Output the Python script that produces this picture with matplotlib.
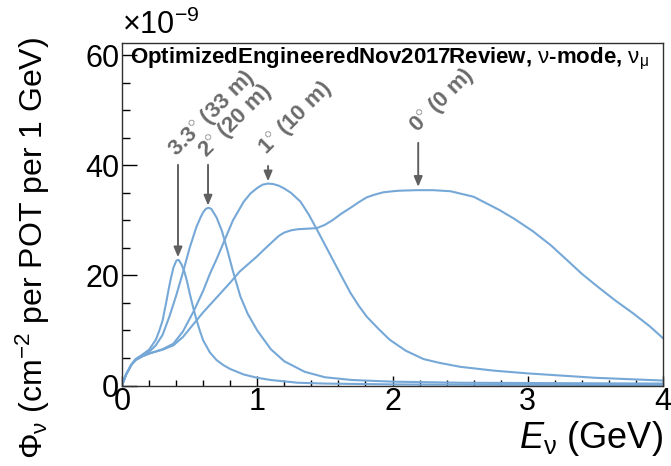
import matplotlib
matplotlib.use("Agg")
import matplotlib.pyplot as plt
from matplotlib.ticker import MultipleLocator

plt.rcParams['font.family'] = ['Liberation Sans', 'DejaVu Sans']
plt.rcParams['mathtext.fontset'] = 'custom'
plt.rcParams['mathtext.rm'] = 'Liberation Sans'
plt.rcParams['mathtext.it'] = 'Liberation Sans:italic'
plt.rcParams['mathtext.bf'] = 'Liberation Sans:bold'

# ---- data (flux in units of 1e-9 cm^-2 per POT per 1 GeV) ----
e_33 = [0, 0.03, 0.07, 0.1, 0.15, 0.2, 0.25, 0.275, 0.3, 0.33, 0.345, 0.36,
        0.38, 0.40, 0.41, 0.42, 0.44, 0.46, 0.48, 0.5, 0.525, 0.55, 0.575,
        0.6, 0.65, 0.7, 0.75, 0.8, 0.9, 1.0, 1.1, 1.3, 1.5, 2.0, 2.5, 3.0,
        3.5, 4.0]
f_33 = [0, 2.0, 3.8, 4.8, 5.6, 6.5, 8.3, 9.9, 11.8, 15.5, 17.5, 19.3,
        21.4, 22.6, 22.8, 22.8, 22.0, 20.8, 19.0, 16.8, 14.3, 12.0, 10.0,
        8.2, 6.0, 4.6, 3.7, 3.0, 2.0, 1.4, 1.0, 0.5, 0.35, 0.2, 0.15, 0.12,
        0.1, 0.1]

e_20 = [0, 0.03, 0.07, 0.1, 0.15, 0.2, 0.25, 0.3, 0.35, 0.4, 0.45, 0.5, 0.55,
        0.58, 0.6, 0.62, 0.64, 0.66, 0.7, 0.74, 0.78, 0.82, 0.875, 0.93, 1.0,
        1.1, 1.2, 1.35, 1.5, 1.7, 2.0, 2.5, 3.0, 3.5, 4.0]
f_20 = [0, 2.0, 3.8, 4.7, 5.4, 6.1, 7.3, 9.2, 12.5, 16.3, 20.5, 25.0, 28.8,
        30.5, 31.5, 32.1, 32.3, 32.1, 30.5, 28.0, 24.5, 20.8, 16.2, 13.0, 10.0,
        6.6, 4.4, 2.5, 1.5, 1.0, 0.7, 0.5, 0.45, 0.4, 0.35]

e_10 = [0, 0.03, 0.07, 0.1, 0.15, 0.2, 0.3, 0.38, 0.45, 0.53, 0.6, 0.65, 0.7,
        0.76, 0.82, 0.9, 0.95, 1.0, 1.04, 1.08, 1.12, 1.16, 1.2, 1.25, 1.32,
        1.38, 1.44, 1.5, 1.56, 1.62, 1.69, 1.75, 1.81, 1.9, 1.98, 2.1, 2.23,
        2.35, 2.5, 2.75, 3.0, 3.5, 4.0]
f_10 = [0, 2.0, 3.8, 4.6, 5.3, 5.8, 6.6, 7.6, 9.8, 13.5, 17.2, 20.3, 23.0,
        26.5, 30.0, 33.4, 34.9, 35.9, 36.5, 36.7, 36.6, 36.3, 35.8, 35.0, 33.4,
        31.1, 28.4, 25.6, 22.8, 20.0, 16.8, 14.5, 12.5, 10.2, 8.3, 6.3, 4.8,
        4.1, 3.4, 2.7, 2.2, 1.4, 0.9]

e_0 = [0, 0.03, 0.07, 0.1, 0.15, 0.2, 0.3, 0.38, 0.45, 0.5, 0.6, 0.7, 0.8,
       0.87, 1.0, 1.05, 1.12, 1.16, 1.2, 1.25, 1.3, 1.37, 1.44, 1.5, 1.56,
       1.62, 1.69, 1.75, 1.81, 1.87, 1.93, 2.0, 2.05, 2.18, 2.3, 2.43, 2.6,
       2.79, 2.9, 3.04, 3.17, 3.29, 3.4, 3.53, 3.65, 3.78, 3.9, 4.0]
f_0 = [0, 2.0, 3.8, 4.6, 5.3, 5.8, 6.5, 7.3, 8.8, 10.3, 13.3, 16.0, 18.7,
       20.7, 23.5, 24.7, 26.3, 27.2, 27.8, 28.2, 28.4, 28.5, 28.6, 29.2, 30.1,
       31.2, 32.3, 33.3, 34.2, 34.7, 35.1, 35.3, 35.4, 35.5, 35.5, 35.3, 34.3,
       31.9, 30.3, 28.0, 25.5, 22.8, 20.3, 17.7, 15.4, 13.1, 10.8, 8.6]

labels = [r'3.3$^{\circ}$ (33 m)', r'2$^{\circ}$ (20 m)',
          r'1$^{\circ}$ (10 m)', r'0$^{\circ}$ (0 m)']
label_pos = [(0.40, 41.5), (0.625, 41.3), (1.065, 41.9), (2.185, 45.9)]
arrow_x = [0.414, 0.636, 1.08, 2.19]
arrow_from = [40.1, 40.1, 39.9, 44.1]
arrow_to = [23.3, 32.7, 37.1, 36.1]

line_color = '#76a8d7'
grey = '#606060'

fig = plt.figure(figsize=(6.71, 4.66), dpi=100)
W, H = 671, 466
ax = fig.add_axes([122 / W, (H - 385.5) / H, 541 / W, 342.8 / H])

for e, f in [(e_33, f_33), (e_20, f_20), (e_10, f_10), (e_0, f_0)]:
    ax.plot(e, f, color=line_color, lw=1.5, solid_joinstyle='round')

ax.set_xlim(0, 4)
ax.set_ylim(0, 62.3)
ax.xaxis.set_major_locator(MultipleLocator(1))
ax.xaxis.set_minor_locator(MultipleLocator(0.2))
ax.yaxis.set_major_locator(MultipleLocator(20))
ax.yaxis.set_minor_locator(MultipleLocator(5))
ax.tick_params(which='both', direction='in', top=False, right=False,
               labelsize=22, colors='black')
ax.tick_params(axis='y', which='major', length=11, width=1)
ax.tick_params(axis='y', which='minor', length=6, width=1)
ax.tick_params(axis='x', which='major', length=7.5, width=1)
ax.tick_params(axis='x', which='minor', length=4, width=1)
ax.tick_params(axis='x', pad=1)
ax.tick_params(axis='y', pad=2)
for s in ax.spines.values():
    s.set_color('#303030')
    s.set_linewidth(1.0)

# annotations
for lab, (lx, ly), axx, a0, a1 in zip(labels, label_pos, arrow_x, arrow_from, arrow_to):
    ax.annotate('', xy=(axx, a1), xytext=(axx, a0),
                arrowprops=dict(arrowstyle='-|>,head_length=0.6,head_width=0.25',
                                color=grey, lw=1.4, shrinkA=0, shrinkB=0))
    ax.text(lx, ly, lab, rotation=45, rotation_mode='anchor', ha='left',
            va='baseline', fontsize=16, fontweight='bold', color='#6a6a6a')

ax.text(8 / 541, (385.5 - 63) / 342.8,
        r'OptimizedEngineeredNov2017Review, $\mathrm{\nu}$-mode, $\mathrm{\nu}_{\mathrm{\mu}}$',
        transform=ax.transAxes, fontsize=16, fontweight='bold',
        ha='left', va='baseline', color='black')

fig.text(122 / W, 1 - 34 / H, r'$\times$10$^{-9}$', fontsize=22,
         ha='left', va='baseline')
fig.text(33 / W, 1 - 37 / H, r'$\mathrm{\Phi}_{\mathrm{\nu}}$ (cm$^{-2}$ per POT per 1 GeV)',
         rotation=90, fontsize=23, ha='center', va='top')
fig.text(663 / W, 1 - 448 / H, r'$E_{\mathrm{\nu}}$ (GeV)', fontsize=26,
         ha='right', va='baseline')

fig.savefig('out.png', dpi=100)
